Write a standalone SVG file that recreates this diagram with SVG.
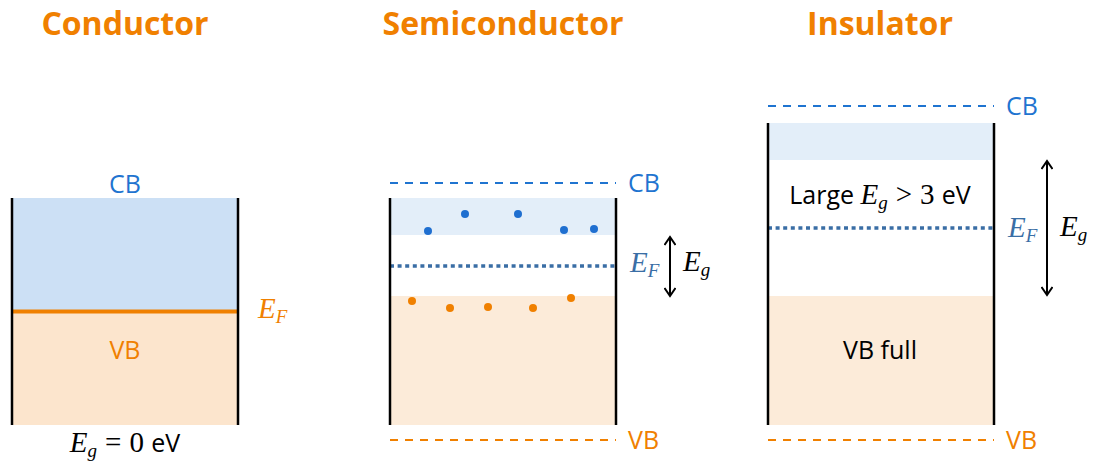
<svg xmlns="http://www.w3.org/2000/svg" width="1093" height="463" viewBox="0 0 1093 463">
<defs>
<style>
.title{font-family:"Open Sans","Noto Sans",sans-serif;font-weight:bold;font-size:32px;fill:#f08000;text-anchor:middle}
.lbl{font-family:"Open Sans","Noto Sans",sans-serif;font-size:25px}
.math{font-family:"Liberation Serif","DejaVu Serif",serif;font-style:italic;font-size:29px}
.sub{font-size:19px}
.wall{stroke:#000;stroke-width:2.5}
.cbd{stroke:#1f74d0;stroke-width:2;stroke-dasharray:8 7;fill:none}
.vbd{stroke:#f08000;stroke-width:2;stroke-dasharray:8 7;fill:none}
.ef{stroke:#3a6ea5;stroke-width:3.5;stroke-dasharray:4 3.6;fill:none}
.arr{stroke:#000;stroke-width:2;fill:none;marker-start:url(#ah);marker-end:url(#ah)}
</style>
<marker id="ah" viewBox="0 0 12 12" refX="10" refY="6" markerWidth="12" markerHeight="12" markerUnits="userSpaceOnUse" orient="auto-start-reverse">
<path d="M2,0.5 L10,6 L2,11.5" fill="none" stroke="#000" stroke-width="2"/>
</marker>
</defs>

<g id="conductor">
<text class="title" x="125" y="35">Conductor</text>
<rect x="12" y="198" width="226" height="113" fill="#cce0f5"/>
<rect x="12" y="311" width="226" height="114" fill="#fce5cd"/>
<line x1="12" y1="311.5" x2="238" y2="311.5" stroke="#f08000" stroke-width="4"/>
<line class="wall" x1="12" y1="198" x2="12" y2="425"/>
<line class="wall" x1="238" y1="198" x2="238" y2="425"/>
<text class="lbl" x="125" y="193" fill="#1f74d0" text-anchor="middle">CB</text>
<text class="lbl" x="125" y="359" fill="#f08000" text-anchor="middle">VB</text>
<text class="math" x="258" y="318" fill="#f08000">E<tspan class="sub" dy="5">F</tspan></text>
<text x="125" y="452" text-anchor="middle"><tspan class="math">E<tspan class="sub" dy="5">g</tspan></tspan><tspan class="math" dx="8" dy="-5" style="font-style:normal">=</tspan><tspan class="math" dx="8" style="font-style:normal">0 </tspan><tspan class="lbl">eV</tspan></text>
</g>

<g id="semiconductor">
<text class="title" x="503" y="35">Semiconductor</text>
<rect x="390" y="198" width="226" height="37" fill="#e3eef9"/>
<rect x="390" y="296" width="226" height="129" fill="#fcebd9"/>
<line class="cbd" x1="390" y1="183" x2="616" y2="183"/>
<line class="vbd" x1="390" y1="440" x2="616" y2="440"/>
<line class="ef" x1="390" y1="266" x2="615" y2="266"/>
<line class="wall" x1="390" y1="198" x2="390" y2="425"/>
<line class="wall" x1="616" y1="198" x2="616" y2="425"/>
<g fill="#1f6fd0">
<circle cx="428" cy="231" r="4"/><circle cx="465" cy="214" r="4"/><circle cx="518" cy="214" r="4"/><circle cx="564" cy="230" r="4"/><circle cx="594" cy="229" r="4"/>
</g>
<g fill="#f08000">
<circle cx="412" cy="301" r="4"/><circle cx="450" cy="308" r="4"/><circle cx="488" cy="307" r="4"/><circle cx="533" cy="308" r="4"/><circle cx="571" cy="298" r="4"/>
</g>
<text class="lbl" x="628" y="192" fill="#1f74d0">CB</text>
<text class="lbl" x="628" y="449" fill="#f08000">VB</text>
<text class="math" x="630" y="272" fill="#3a6ea5">E<tspan class="sub" dy="5">F</tspan></text>
<text class="math" x="683" y="271" fill="#000">E<tspan class="sub" dy="5">g</tspan></text>
</g>

<g id="insulator">
<text class="title" x="880" y="35">Insulator</text>
<rect x="768" y="123" width="226" height="37" fill="#e3eef9"/>
<rect x="768" y="296" width="226" height="129" fill="#fcebd9"/>
<line class="cbd" x1="768" y1="106" x2="994" y2="106"/>
<line class="vbd" x1="768" y1="440" x2="994" y2="440"/>
<line class="ef" x1="768" y1="228" x2="993" y2="228"/>
<line class="wall" x1="768" y1="123" x2="768" y2="425"/>
<line class="wall" x1="994" y1="123" x2="994" y2="425"/>
<text class="lbl" x="1006" y="115" fill="#1f74d0">CB</text>
<text class="lbl" x="1006" y="449" fill="#f08000">VB</text>
<text x="880" y="204" text-anchor="middle"><tspan class="lbl">Large </tspan><tspan class="math">E<tspan class="sub" dy="5">g</tspan></tspan><tspan class="math" dx="8" dy="-5" style="font-style:normal">&gt;</tspan><tspan class="math" dx="8" style="font-style:normal">3 </tspan><tspan class="lbl">eV</tspan></text>
<text class="lbl" x="880" y="359" text-anchor="middle" fill="#000">VB full</text>
<text class="math" x="1008" y="237" fill="#3a6ea5">E<tspan class="sub" dy="5">F</tspan></text>
<text class="math" x="1060" y="236" fill="#000">E<tspan class="sub" dy="5">g</tspan></text>
</g>

<g id="connectors">
<line class="arr" x1="670" y1="237" x2="670" y2="296"/>
<line class="arr" x1="1047" y1="161" x2="1047" y2="295"/>
</g>
</svg>
